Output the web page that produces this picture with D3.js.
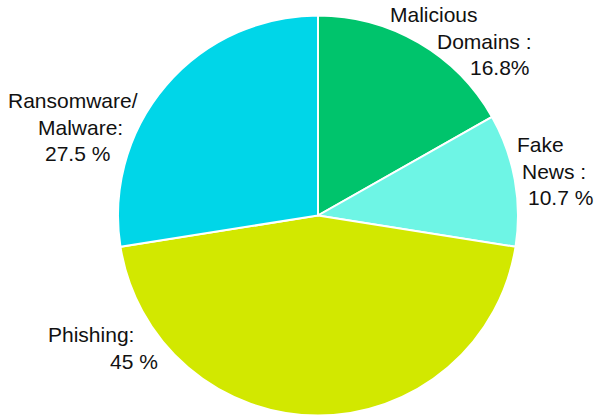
<!DOCTYPE html>
<html>
<head>
<meta charset="utf-8">
<script src="https://cdn.jsdelivr.net/npm/d3@7"></script>
<style>
  body { margin: 0; background: #fff; }
  text { font-family: "Liberation Sans", Arial, Helvetica, sans-serif; font-size: 21px; fill: #111; }
</style>
</head>
<body>
<div id="chart"></div>
<script>
// data
const categories = ["Malicious Domains", "Fake News", "Phishing", "Ransomware/Malware"];
const shares = [16.8, 10.7, 45, 27.5];
const labelLines = [
    ["Malicious", "Domains :", "16.8%"],
    ["Fake", "News :", "10.7 %"],
    ["Phishing:", "45 %"],
    ["Ransomware/", "Malware:", "27.5 %"]
];
const colors = ["#00c46c", "#6ef5e5", "#d2e800", "#00d6e8"];

// where each label block sits: x of each line start (text-anchor start), baseline of first line
const labelPlaces = [
    { xs: [390, 437, 470], y: 22 },
    { xs: [517, 522, 528], y: 152 },
    { xs: [48, 110], y: 342 },
    { xs: [8, 38, 45], y: 108 }
];

const width = 599, height = 420;
const cx = 318, cy = 215.5, radius = 200;

const svg = d3.select("#chart").append("svg")
    .attr("width", width)
    .attr("height", height);

const pie = d3.pie().sort(null).value(d => d);
const arc = d3.arc().innerRadius(0).outerRadius(radius);

const g = svg.append("g").attr("transform", `translate(${cx},${cy})`);

g.selectAll("path")
    .data(pie(shares))
    .join("path")
    .attr("d", arc)
    .attr("fill", (d, i) => colors[i])
    .attr("stroke", "#fff")
    .attr("stroke-width", 2);

labelLines.forEach((lines, i) => {
    const place = labelPlaces[i];
    const t = svg.append("text").attr("class", "label");
    lines.forEach((line, j) => {
        t.append("tspan")
            .attr("x", place.xs[j])
            .attr("y", place.y + j * 26.5)
            .text(line);
    });
});
</script>
</body>
</html>
